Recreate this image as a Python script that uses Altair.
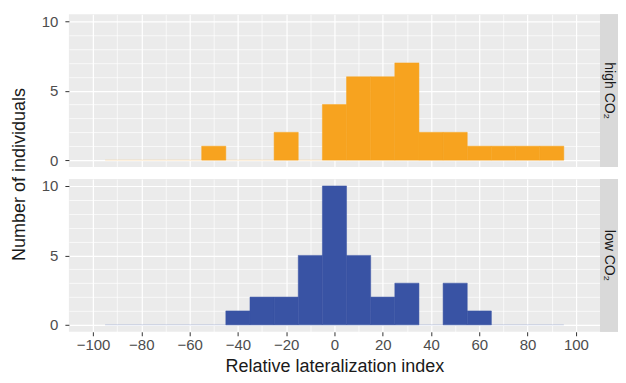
import altair as alt
import pandas as pd

# Histogram bins (width 10) and counts
bin_centers = [-90, -80, -70, -60, -50, -40, -30, -20, -10, 0, 10, 20, 30, 40, 50, 60, 70, 80, 90]
high_counts = [0, 0, 0, 0, 1, 0, 0, 2, 0, 4, 6, 6, 7, 2, 2, 1, 1, 1, 1]
low_counts = [0, 0, 0, 0, 0, 1, 2, 2, 5, 10, 5, 2, 3, 0, 3, 1, 0, 0, 0]
bin_width = 10

x_ticks = list(range(-100, 101, 10))
y_ticks = list(range(0, 11, 1))

ORANGE = "#F7A31F"
BLUE = "#3953A4"
FONT = "Liberation Sans"
PANEL_W, PANEL_H = 532, 153
STRIP_W = 18
GAP = 9
LABEL_SIZE = 15
TITLE_SIZE = 18


def make_df(counts):
    return pd.DataFrame({
        "start": [c - bin_width / 2 for c in bin_centers],
        "end": [c + bin_width / 2 for c in bin_centers],
        "count": counts,
    })


def xaxis(show):
    common = dict(
        values=x_ticks,
        grid=True,
        gridColor="white",
        gridWidth={"condition": {"test": "datum.value % 20 === 0", "value": 1.2}, "value": 0.7},
        domain=False,
    )
    if show:
        return alt.Axis(
            **common,
            title="Relative lateralization index",
            labelExpr="datum.value % 20 === 0 ? replace(format(datum.value, 'd'), '-', '\u2212') : ''",
            tickOpacity={"condition": {"test": "datum.value % 20 === 0", "value": 1}, "value": 0},
            tickSize=4,
            tickColor="#333333",
            labelPadding=2,
            labelFont=FONT,
            labelFontSize=LABEL_SIZE,
            labelColor="#4D4D4D",
            titleFont=FONT,
            titleFontSize=TITLE_SIZE,
            titleFontWeight="normal",
            titleColor="#1A1A1A",
            titlePadding=5,
        )
    return alt.Axis(**common, labels=False, ticks=False, title=None)


def yaxis():
    return alt.Axis(
        values=y_ticks,
        grid=True,
        gridColor="white",
        gridWidth={"condition": {"test": "datum.value % 5 === 0", "value": 1.2}, "value": 0.7},
        domain=False,
        labelExpr="datum.value % 5 === 0 ? format(datum.value, 'd') : ''",
        tickOpacity={"condition": {"test": "datum.value % 5 === 0", "value": 1}, "value": 0},
        tickSize=4,
        tickColor="#333333",
        labelPadding=7,
        labelFont=FONT,
        labelFontSize=LABEL_SIZE,
        labelColor="#4D4D4D",
        title=None,
    )


def panel(counts, color, show_x):
    df = make_df(counts)
    xs = alt.Scale(domain=[-110, 110], nice=False, zero=False)
    ys = alt.Scale(domain=[-0.5, 10.5], nice=False, zero=False)
    base = alt.Chart(df)
    zero_line = base.transform_aggregate(
        lo="min(start)", hi="max(end)"
    ).transform_calculate(zero_val="0").mark_rule(color=color, opacity=0.25, strokeWidth=1).encode(
        x=alt.X("lo:Q", scale=xs, axis=xaxis(show_x)),
        x2="hi:Q",
        y=alt.Y("zero_val:Q", scale=ys, axis=yaxis()),
    )
    bars = base.transform_filter("datum.count > 0").mark_rect(
        color=color, stroke=color, strokeWidth=0.5
    ).encode(
        x=alt.X("start:Q", scale=xs, axis=xaxis(show_x)),
        x2="end:Q",
        y=alt.Y("count:Q", scale=ys, axis=yaxis()),
        y2=alt.datum(0),
    )
    return alt.layer(zero_line, bars).properties(
        width=PANEL_W, height=PANEL_H, view=alt.ViewBackground(fill="#EBEBEB", stroke=None)
    )


def strip(label):
    base = alt.Chart(pd.DataFrame({"label": [label]}))
    rect = base.mark_rect(color="#D9D9D9").encode(
        x=alt.value(0), x2=alt.value(STRIP_W), y=alt.value(0), y2=alt.value(PANEL_H)
    )
    txt = base.mark_text(angle=90, font=FONT, fontSize=14, color="#1A1A1A", baseline="middle").encode(
        x=alt.value(STRIP_W / 2), y=alt.value(PANEL_H / 2), text="label:N"
    )
    return alt.layer(rect, txt).properties(
        width=STRIP_W, height=PANEL_H, view=alt.ViewBackground(fill="#D9D9D9", stroke=None)
    )


ytitle = alt.Chart(pd.DataFrame({"t": ["Number of individuals"]})).mark_text(
    angle=270, font=FONT, fontSize=TITLE_SIZE, color="#1A1A1A", baseline="middle"
).encode(
    x=alt.value(10), y=alt.value(PANEL_H + GAP / 2 + 3), text="t:N"
).properties(width=20, height=2 * PANEL_H + GAP)

top = alt.hconcat(panel(high_counts, ORANGE, False), strip("high CO\u2082"), spacing=0)
bottom = alt.hconcat(panel(low_counts, BLUE, True), strip("low CO\u2082"), spacing=0)
panels = alt.vconcat(top, bottom, spacing=GAP)

chart = alt.hconcat(ytitle, panels, spacing=11).properties(
    padding={"left": 2, "top": 5, "right": 0, "bottom": 0},
    background="white",
).configure_view(stroke=None)

chart.save("out.html", embed_options={"renderer": "svg", "actions": False})
